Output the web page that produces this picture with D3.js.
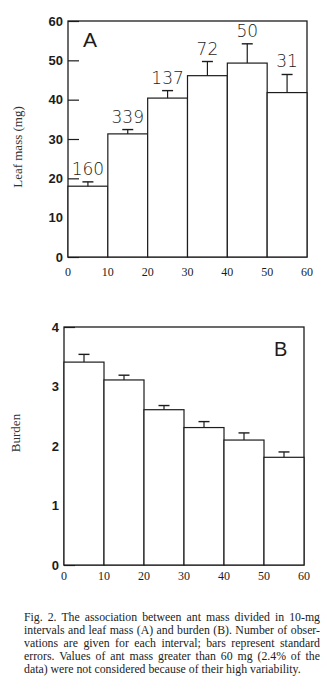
<!DOCTYPE html>
<html>
<head>
<meta charset="utf-8">
<script src="https://cdn.jsdelivr.net/npm/d3@7"></script>
<style>
  html, body { margin: 0; padding: 0; background: #fff; }
  svg { display: block; }
</style>
</head>
<body>
<div id="figure"></div>
<script>
(() => {
  const INK = '#1c1c1c';
  const SERIF = '"Liberation Serif", "Times New Roman", serif';
  const SANS = '"Liberation Sans", Arial, sans-serif';

  // ant mass intervals (mg)
  const intervals = ['0-10', '10-20', '20-30', '30-40', '40-50', '50-60'];
  const xTicks = [0, 10, 20, 30, 40, 50, 60];

  // panel A: leaf mass (mg)
  const leafMass = [18, 31.3, 40.4, 46.1, 49.3, 41.8];
  const leafMassSE = [1.1, 1.1, 1.9, 3.6, 4.9, 4.6];
  const observations = ['160', '339', '137', '72', '50', '31'];
  const leafTicks = [0, 10, 20, 30, 40, 50, 60];

  // panel B: burden
  const burden = [3.41, 3.11, 2.61, 2.31, 2.10, 1.81];
  const burdenSE = [0.13, 0.08, 0.07, 0.10, 0.12, 0.09];
  const burdenTicks = [0, 1, 2, 3, 4];

  const captionLines = [
    'Fig. 2. The association between ant mass divided in 10-mg',
    'intervals and leaf mass (A) and burden (B). Number of obser-',
    'vations are given for each interval; bars represent standard',
    'errors. Values of ant mass greater than 60 mg (2.4% of the',
    'data) were not considered because of their high variability.'
  ];

  const width = 327;
  const height = 689;
  const svg = d3.select('#figure')
    .append('svg')
    .attr('width', width)
    .attr('height', height);

  svg.append('rect').attr('width', width).attr('height', height).attr('fill', '#fff');

  drawPanel({
    box: { left: 68, right: 307, top: 21, bottom: 257 },
    values: leafMass,
    errors: leafMassSE,
    yMax: 60,
    yTicks: leafTicks,
    yTitle: 'Leaf mass (mg)',
    titleX: 17,
    titleShift: 8,
    letter: 'A',
    letterPos: [83, 47],
    letterSize: 21,
    counts: observations,
    labelRight: 63,
    xLabelY: 276
  });

  drawPanel({
    box: { left: 64, right: 304, top: 327, bottom: 565 },
    values: burden,
    errors: burdenSE,
    yMax: 4,
    yTicks: burdenTicks,
    yTitle: 'Burden',
    titleX: 15,
    titleShift: -13,
    letter: 'B',
    letterPos: [274, 356],
    letterSize: 20,
    counts: null,
    labelRight: 59,
    xLabelY: 580
  });

  drawCaption();

  function drawPanel(cfg) {
    const { box } = cfg;
    const g = svg.append('g');

    const x = d3.scaleLinear().domain([0, 60]).range([box.left, box.right]);
    const band = d3.scaleBand().domain(intervals).range([box.left, box.right]).padding(0);
    const y = d3.scaleLinear().domain([0, cfg.yMax]).range([box.bottom, box.top]);

    // inward ticks, labels drawn separately
    const yAxis = g.append('g')
      .attr('transform', `translate(${box.left},0)`)
      .call(d3.axisRight(y).tickValues(cfg.yTicks).tickSize(11).tickFormat(''));
    yAxis.select('.domain').remove();
    yAxis.selectAll('line').attr('stroke', INK).attr('stroke-width', 1.2);

    g.selectAll('.y-label')
      .data(cfg.yTicks)
      .enter()
      .append('text')
      .attr('class', 'y-label')
      .attr('x', cfg.labelRight)
      .attr('y', (d) => y(d))
      .attr('dy', '0.36em')
      .attr('text-anchor', 'end')
      .attr('font-family', SANS)
      .attr('font-weight', 'bold')
      .attr('font-size', 13)
      .attr('fill', INK)
      .text((d) => d);

    // frame
    g.append('rect')
      .attr('x', box.left)
      .attr('y', box.top)
      .attr('width', box.right - box.left)
      .attr('height', box.bottom - box.top)
      .attr('fill', 'none')
      .attr('stroke', INK)
      .attr('stroke-width', 1.3);

    // bars
    g.selectAll('.bar')
      .data(cfg.values)
      .enter()
      .append('rect')
      .attr('class', 'bar')
      .attr('x', (_, i) => band(intervals[i]))
      .attr('y', (d) => y(d))
      .attr('width', band.bandwidth())
      .attr('height', (d) => y(0) - y(d))
      .attr('fill', '#fff')
      .attr('stroke', INK)
      .attr('stroke-width', 1.2);

    // standard errors (upper half only)
    const capHalf = 5.5;
    const mid = (i) => band(intervals[i]) + band.bandwidth() / 2;
    const err = g.selectAll('.err')
      .data(cfg.values)
      .enter()
      .append('g')
      .attr('class', 'err');
    err.append('line')
      .attr('x1', (_, i) => mid(i))
      .attr('x2', (_, i) => mid(i))
      .attr('y1', (d) => y(d))
      .attr('y2', (d, i) => y(d + cfg.errors[i]))
      .attr('stroke', INK)
      .attr('stroke-width', 1.2);
    err.append('line')
      .attr('x1', (_, i) => mid(i) - capHalf)
      .attr('x2', (_, i) => mid(i) + capHalf)
      .attr('y1', (d, i) => y(d + cfg.errors[i]))
      .attr('y2', (d, i) => y(d + cfg.errors[i]))
      .attr('stroke', INK)
      .attr('stroke-width', 1.4);

    if (cfg.counts) {
      g.selectAll('.count')
        .data(cfg.counts)
        .enter()
        .append('text')
        .attr('class', 'count')
        .attr('x', (_, i) => mid(i))
        .attr('y', (_, i) => y(cfg.values[i] + cfg.errors[i]) - 7)
        .attr('text-anchor', 'middle')
        .attr('font-family', '"DejaVu Sans", sans-serif')
        .attr('font-weight', 200)
        .attr('font-size', 17)
        .attr('fill', INK)
        .text((d) => d);
    }

    // x tick labels (serif, below)
    g.selectAll('.x-label')
      .data(xTicks)
      .enter()
      .append('text')
      .attr('class', 'x-label')
      .attr('x', (d) => x(d))
      .attr('y', cfg.xLabelY)
      .attr('text-anchor', 'middle')
      .attr('font-family', SERIF)
      .attr('font-size', 12)
      .attr('fill', INK)
      .text((d) => d);

    g.append('text')
      .attr('x', cfg.letterPos[0])
      .attr('y', cfg.letterPos[1])
      .attr('font-family', SANS)
      .attr('font-size', cfg.letterSize)
      .attr('fill', INK)
      .text(cfg.letter);

    const midY = (box.top + box.bottom) / 2 + cfg.titleShift;
    g.append('text')
      .attr('transform', `translate(${cfg.titleX},${midY}) rotate(-90)`)
      .attr('text-anchor', 'middle')
      .attr('dy', '0.35em')
      .attr('font-family', SERIF)
      .attr('font-size', 13)
      .attr('fill', '#333')
      .text(cfg.yTitle);
  }

  function drawCaption() {
    const left = 24;
    const right = 320;
    const top = 621;
    const lineHeight = 12.9;
    captionLines.forEach((line, i) => {
      const t = svg.append('text')
        .attr('x', left)
        .attr('y', top + i * lineHeight)
        .attr('font-family', SERIF)
        .attr('font-size', 11.8)
        .attr('fill', '#222')
        .text(line);
      if (i < captionLines.length - 1) {
        const natural = t.node().getComputedTextLength();
        const spaces = (line.match(/ /g) || []).length;
        if (spaces > 0) {
          t.attr('word-spacing', Math.max(0, (right - left - natural) / spaces));
        }
      }
    });
  }
})();
</script>
</body>
</html>
